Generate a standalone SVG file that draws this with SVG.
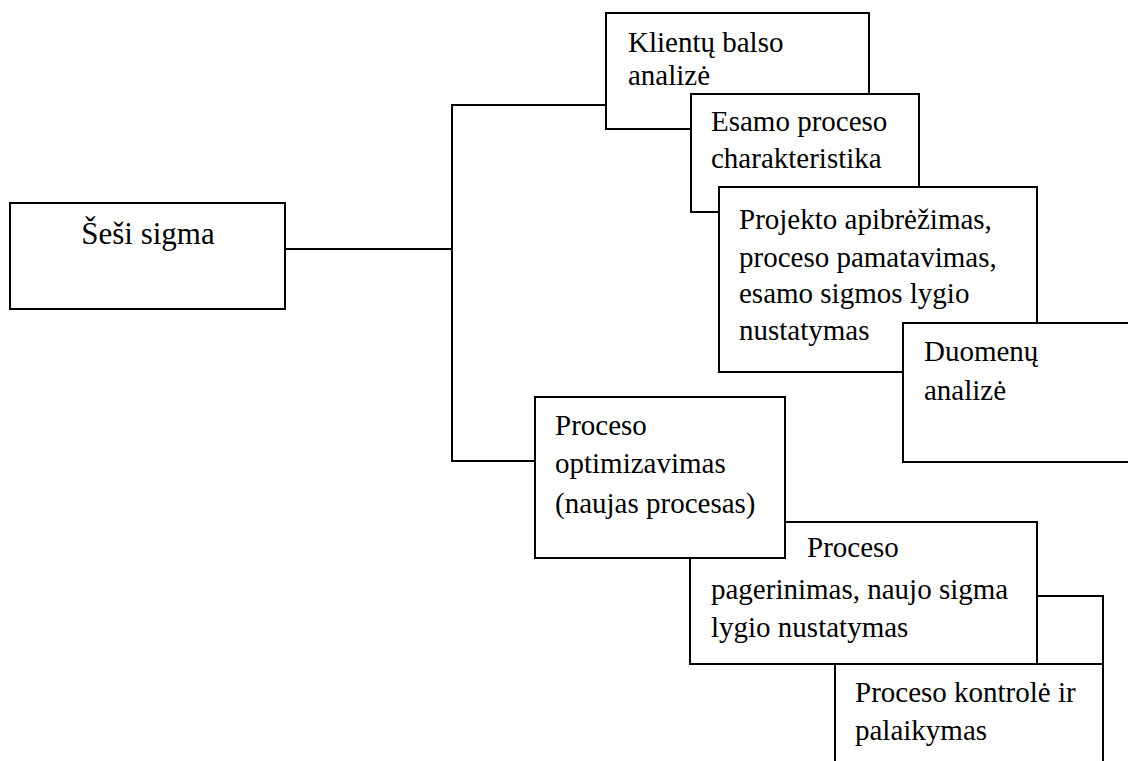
<svg xmlns="http://www.w3.org/2000/svg" width="1128" height="761" viewBox="0 0 1128 761">
  <style>
    .box { fill: #ffffff; stroke: #000000; stroke-width: 2; }
    .wire { fill: none; stroke: #000000; stroke-width: 2; }
    .lbl { font-family: 'Liberation Serif', serif; font-size: 29px; fill: #000000; }
    .title { font-size: 31px; }
  </style>
  <rect width="1128" height="761" fill="#ffffff"/>

  <!-- connectors -->
  <g id="connectors">
    <polyline class="wire" points="285,249 452,249"/>
    <polyline class="wire" points="606,105 452,105 452,461 535,461"/>
    <polyline class="wire" points="1037,596 1103,596 1103,770"/>
  </g>

  <!-- nodes (later ones overlap earlier ones) -->
  <g id="node-sesi-sigma">
    <rect class="box" x="10" y="203" width="275" height="106"/>
    <text class="lbl title" x="148" y="244" text-anchor="middle">Šeši sigma</text>
  </g>

  <g id="node-klientu-balso">
    <rect class="box" x="606" y="13" width="263" height="116"/>
    <text class="lbl"><tspan x="628" y="52">Klientų balso</tspan><tspan x="628" y="85">analizė</tspan></text>
  </g>

  <g id="node-esamo-proceso">
    <rect class="box" x="691" y="94" width="228" height="118"/>
    <text class="lbl"><tspan x="711" y="131">Esamo proceso</tspan><tspan x="711" y="168">charakteristika</tspan></text>
  </g>

  <g id="node-projekto">
    <rect class="box" x="719" y="187" width="318" height="185"/>
    <text class="lbl"><tspan x="739" y="229">Projekto apibrėžimas,</tspan><tspan x="739" y="267">proceso pamatavimas,</tspan><tspan x="739" y="303">esamo sigmos lygio</tspan><tspan x="739" y="340">nustatymas</tspan></text>
  </g>

  <g id="node-duomenu">
    <rect class="box" x="903" y="323" width="240" height="139"/>
    <text class="lbl"><tspan x="924" y="361">Duomenų</tspan><tspan x="924" y="400">analizė</tspan></text>
  </g>

  <g id="node-kontrole">
    <rect class="box" x="835" y="664" width="268" height="110"/>
    <text class="lbl"><tspan x="855" y="702">Proceso kontrolė ir</tspan><tspan x="855" y="740">palaikymas</tspan></text>
  </g>

  <g id="node-pagerinimas">
    <rect class="box" x="690" y="522" width="347" height="142"/>
    <text class="lbl"><tspan x="807" y="557">Proceso</tspan><tspan x="711" y="599">pagerinimas, naujo sigma</tspan><tspan x="711" y="637">lygio nustatymas</tspan></text>
  </g>

  <g id="node-optimizavimas">
    <rect class="box" x="535" y="397" width="250" height="161"/>
    <text class="lbl"><tspan x="555" y="435">Proceso</tspan><tspan x="555" y="473">optimizavimas</tspan><tspan x="555" y="513">(naujas procesas)</tspan></text>
  </g>
</svg>
